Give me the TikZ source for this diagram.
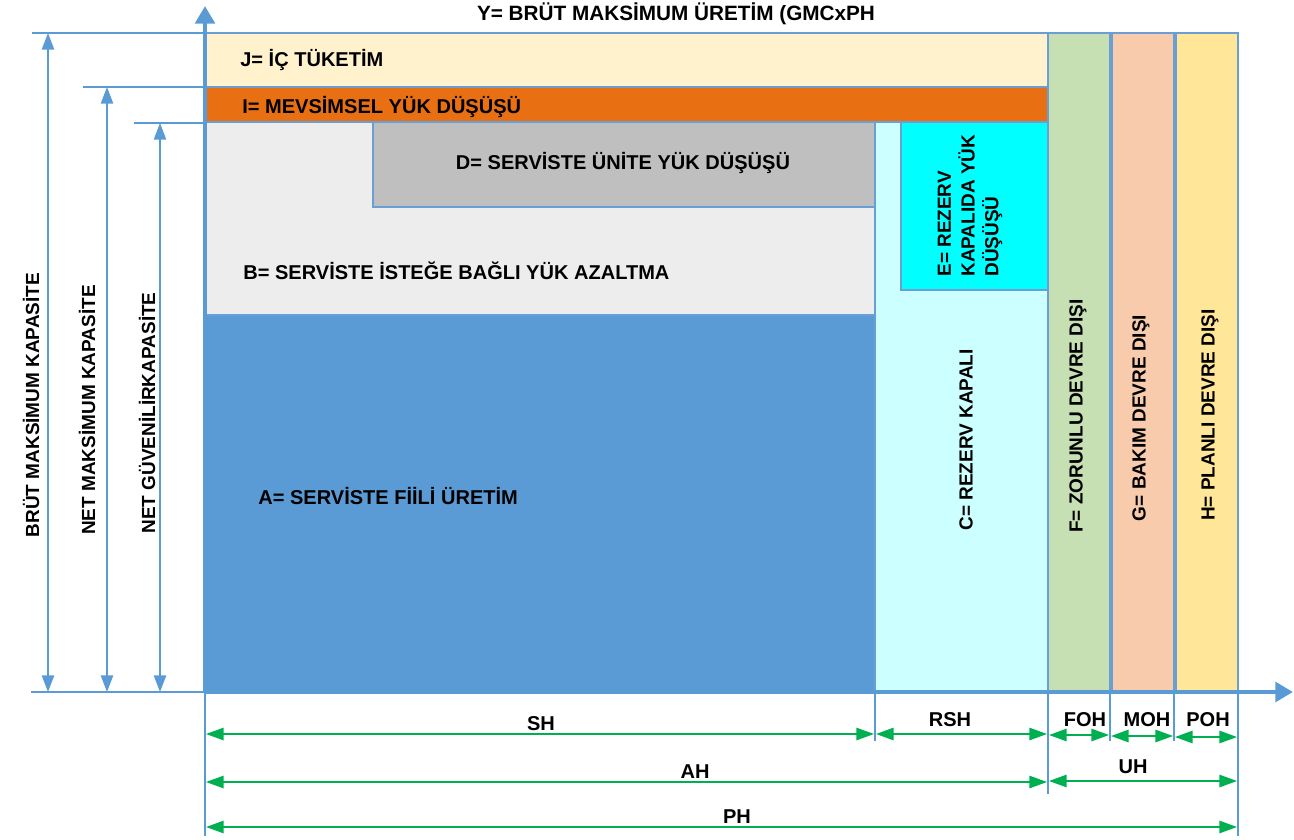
\documentclass[tikz,border=0pt]{standalone}
\usepackage{fontspec}
\setmainfont{Liberation Sans}
\usetikzlibrary{arrows.meta}
\definecolor{axblue}{HTML}{5B9BD5}
\definecolor{bordblue}{HTML}{6A9FD6}
\definecolor{jcol}{HTML}{FFF2CC}
\definecolor{icol}{HTML}{E97012}
\definecolor{bcol}{HTML}{EDEDED}
\definecolor{dcol}{HTML}{BFBFBF}
\definecolor{acol}{HTML}{5B9BD5}
\definecolor{ccol}{HTML}{CCFFFF}
\definecolor{ecol}{HTML}{00FFFF}
\definecolor{fcol}{HTML}{C6E0B4}
\definecolor{gcol}{HTML}{F8CBAD}
\definecolor{hcol}{HTML}{FFE699}
\definecolor{dimgreen}{HTML}{00B050}
\begin{document}
\begin{tikzpicture}[x=0.02cm,y=-0.02cm,
 box/.style={draw=bordblue,line width=1.6pt},
 lbl/.style={font=\fontsize{11.4}{13.5}\selectfont\bfseries, inner sep=0pt},
 rlbl/.style={font=\fontsize{10.8}{13}\selectfont\bfseries, inner sep=0pt, rotate=90},
 hline/.style={draw=axblue, line width=1pt},
 varr/.style={axblue, line width=1pt, {Triangle[length=9.5pt,width=7pt]}-{Triangle[length=9.5pt,width=7pt]}},
 garr/.style={dimgreen, line width=1pt, {Triangle[length=10pt,width=7pt]}-{Triangle[length=10pt,width=7pt]}},
 tickline/.style={axblue, line width=0.8pt},
 axisline/.style={axblue, line width=2.6pt, -{Triangle[length=10pt,width=11pt]}}
]
\useasboundingbox (0,0) rectangle (1294,839);

% boxes
\draw[box, fill=jcol] (205,33) rectangle (1048,87);
\draw[box, fill=icol] (205,87) rectangle (1048,122);
\draw[box, fill=bcol] (205,122) rectangle (875,315);
\draw[box, fill=acol] (205,315) rectangle (875,692);
\draw[box, fill=dcol] (373,122) rectangle (875,207);
\draw[box, fill=ccol] (875,122) rectangle (1048,692);
\draw[box, fill=ecol] (901,122) rectangle (1048,290);
\draw[box, fill=fcol] (1048,33) rectangle (1110,692);
\draw[box, fill=gcol] (1112,33) rectangle (1174,692);
\draw[box, fill=hcol] (1176,33) rectangle (1238,692);

% labels inside
\node[lbl, anchor=west] (lJ) at (240,60) {J= İÇ TÜKETİM};
\node[lbl, anchor=west] (lI) at (242,107) {I= MEVSİMSEL YÜK DÜŞÜŞÜ};
\node[lbl] (lD) at (623,163) {D= SERVİSTE ÜNİTE YÜK DÜŞÜŞÜ};
\node[lbl, anchor=west] (lB) at (243,271) {B= SERVİSTE İSTEĞE BAĞLI YÜK AZALTMA};
\node[lbl, anchor=west] (lA) at (258,496) {A= SERVİSTE FİİLİ ÜRETİM};
\node[rlbl] (lC) at (966,440) {C= REZERV KAPALI};
\node[rlbl, anchor=west, align=left, font=\fontsize{10.8}{13.5}\selectfont\bfseries] (lE) at (970,277) {E= REZERV\\KAPALIDA YÜK\\DÜŞÜŞÜ};
\node[rlbl] (lF) at (1078,416) {F= ZORUNLU DEVRE DIŞI};
\node[rlbl] (lG) at (1141,418) {G= BAKIM DEVRE DIŞI};
\node[rlbl] (lH) at (1210,415) {H= PLANLI DEVRE DIŞI};

% title
\node[lbl, font=\fontsize{11.8}{14}\selectfont\bfseries] (title) at (676,14) {Y= BRÜT MAKSİMUM ÜRETİM (GMCxPH};

% left dimension lines
\coordinate (h1a) at (32,33);   \coordinate (h1b) at (205,33);
\coordinate (h2a) at (83,87);   \coordinate (h2b) at (205,87);
\coordinate (h3a) at (134,123); \coordinate (h3b) at (205,123);
\coordinate (h0a) at (31,692);  \coordinate (h0b) at (205,692);
\draw[hline] (h1a) -- (h1b);
\draw[hline] (h2a) -- (h2b);
\draw[hline] (h3a) -- (h3b);
\draw[hline] (h0a) -- (h0b);
\coordinate (v1t) at (48,33);  \coordinate (v1b) at (48,692);
\coordinate (v2t) at (107,87); \coordinate (v2b) at (107,692);
\coordinate (v3t) at (160,123);\coordinate (v3b) at (160,692);
\draw[varr] (v1b) -- (v1t);
\draw[varr] (v2b) -- (v2t);
\draw[varr] (v3b) -- (v3t);
\node[rlbl] (lBMK) at (31,405) {BRÜT MAKSİMUM KAPASİTE};
\node[rlbl] (lNMK) at (87,410) {NET MAKSİMUM KAPASİTE};
\node[rlbl] (lNGK) at (147,413) {NET GÜVENİLİRKAPASİTE};

% axes
\coordinate (O) at (205,692);
\coordinate (Ytip) at (205,6);
\coordinate (Xtip) at (1293,692);
\draw[axisline] (O) -- (Ytip);
\draw[axisline] (O) -- (Xtip);

% bottom ticks
\coordinate (t0a) at (205,692); \coordinate (t0b) at (205,836);
\coordinate (t1a) at (875,692); \coordinate (t1b) at (875,741);
\coordinate (t2a) at (1048,692); \coordinate (t2b) at (1048,794);
\coordinate (t3a) at (1110,692); \coordinate (t3b) at (1110,741);
\coordinate (t4a) at (1174,692); \coordinate (t4b) at (1174,741);
\coordinate (t5a) at (1238,692); \coordinate (t5b) at (1238,836);
\draw[tickline] (t0a) -- (t0b);
\draw[tickline] (t1a) -- (t1b);
\draw[tickline] (t2a) -- (t2b);
\draw[tickline] (t3a) -- (t3b);
\draw[tickline] (t4a) -- (t4b);
\draw[tickline] (t5a) -- (t5b);

% green dimension arrows
\draw[garr] (206,734) -- (874,734);
\draw[garr] (876,734) -- (1047,734);
\draw[garr] (1049,735) -- (1109,735);
\draw[garr] (1111,736) -- (1173,736);
\draw[garr] (1175,737) -- (1237,737);
\draw[garr] (206,782) -- (1047,782);
\draw[garr] (1049,781) -- (1237,781);
\draw[garr] (206,827) -- (1237,827);

\node[lbl] (lSH) at (541,724) {SH};
\node[lbl] (lRSH) at (950,720) {RSH};
\node[lbl] (lFOH) at (1085,720) {FOH};
\node[lbl] (lMOH) at (1147,720) {MOH};
\node[lbl] (lPOH) at (1208,720) {POH};
\node[lbl] (lAH) at (695,772) {AH};
\node[lbl] (lUH) at (1133,767) {UH};
\node[lbl] (lPH) at (737,817) {PH};
\end{tikzpicture}
\end{document}
